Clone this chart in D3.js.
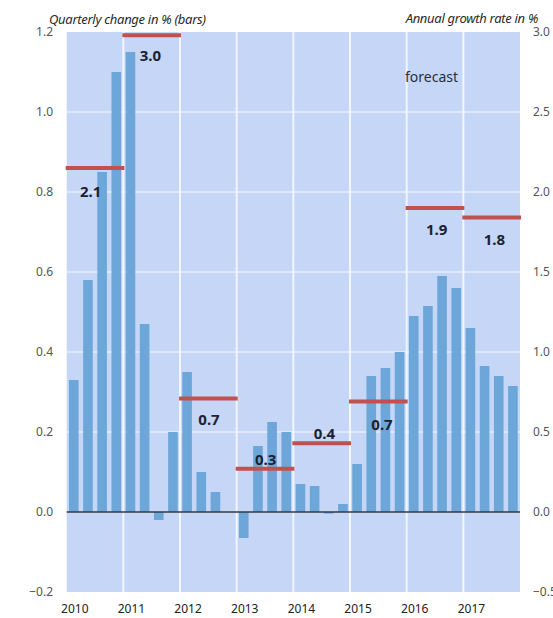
<!DOCTYPE html>
<html><head><meta charset="utf-8">
<script src="https://cdn.jsdelivr.net/npm/d3@7/dist/d3.min.js"></script>
<style>body{margin:0;background:#fff;}svg{display:block;font-family:"Noto Sans",sans-serif;}</style>
</head><body><svg id="c" width="553" height="618"></svg>
<script>
const years = ["2010","2011","2012","2013","2014","2015","2016","2017"];
const quarters = ["Q1","Q2","Q3","Q4"];
const quarterly = [
  0.33, 0.58, 0.85, 1.10,
  1.15, 0.47, -0.02, 0.20,
  0.35, 0.10, 0.05, 0.0,
  -0.065, 0.165, 0.225, 0.20,
  0.07, 0.065, -0.004, 0.02,
  0.12, 0.34, 0.36, 0.40,
  0.49, 0.515, 0.59, 0.56,
  0.46, 0.365, 0.34, 0.315
];
const annual = [2.15, 2.98, 0.71, 0.27, 0.43, 0.69, 1.90, 1.84];
const annualLabels = ["2.1","3.0","0.7","0.3","0.4","0.7","1.9","1.8"];
const leftTicks = [-0.2,0.0,0.2,0.4,0.6,0.8,1.0,1.2];
const rightTicks = [-0.5,0.0,0.5,1.0,1.5,2.0,2.5,3.0];

const svg = d3.select("#c");
const L = 66.7, R = 520, T = 32, B = 592;

const cats = [];
years.forEach(y => quarters.forEach(q => cats.push(y + q)));
const x = d3.scaleBand().domain(cats).range([L, R]).paddingInner(0.32).paddingOuter(0.16);
const xYear = d3.scaleBand().domain(years).range([L, R]);
const y = d3.scaleLinear().domain([-0.2, 1.2]).range([B, T]);
const y2 = d3.scaleLinear().domain([-0.5, 3.0]).range([B, T]);

svg.append("rect").attr("x", L).attr("y", T).attr("width", R - L).attr("height", B - T).attr("fill", "#c5d6f6");

// horizontal gridlines
svg.selectAll(".hg").data(leftTicks.filter(t => t !== 0 && t !== 1.2 && t !== -0.2)).join("line")
  .attr("x1", L).attr("x2", R).attr("y1", d => y(d)).attr("y2", d => y(d))
  .attr("stroke", "#e6eefc").attr("stroke-width", 1.5);
// vertical gridlines
svg.selectAll(".vg").data(years.slice(1)).join("line")
  .attr("x1", d => xYear(d)).attr("x2", d => xYear(d)).attr("y1", T).attr("y2", B)
  .attr("stroke", "#f2f6fe").attr("stroke-width", 2);

// bars
svg.selectAll(".bar").data(quarterly).join("rect")
  .attr("x", (d, i) => x(cats[i])).attr("width", x.bandwidth())
  .attr("y", d => y(Math.max(0, d))).attr("height", d => Math.abs(y(d) - y(0)))
  .attr("fill", "#6da7da");

// zero line
svg.append("line").attr("x1", L).attr("x2", R).attr("y1", y(0)).attr("y2", y(0))
  .attr("stroke", "#333a44").attr("stroke-width", 1.5);

// annual lines
svg.selectAll(".ann").data(annual).join("line")
  .attr("x1", (d, i) => xYear(years[i]) - 1).attr("x2", (d, i) => xYear(years[i]) + xYear.bandwidth() + 1)
  .attr("y1", d => y2(d)).attr("y2", d => y2(d))
  .attr("stroke", "#c2504e").attr("stroke-width", 4);

// annual labels: offsets (dx from year start, dy from line)
const labDx = [24, 27, 29, 29, 31, 32, 30, 31];
const labDy = [24, 21, 22, -9, -9, 23, 22, 22];
svg.selectAll(".al").data(annual).join("text")
  .attr("x", (d, i) => xYear(years[i]) + labDx[i])
  .attr("y", (d, i) => y2(d) + labDy[i] + 5)
  .attr("text-anchor", "middle").attr("font-size", 15).attr("font-weight", "bold")
  .attr("fill", "#1b2233").text((d, i) => annualLabels[i]);

svg.append("text").attr("x", 405).attr("y", 82).attr("font-size", 14).attr("fill", "#26303f").text("forecast");

// left axis labels
svg.selectAll(".lt").data(leftTicks).join("text")
  .attr("x", 53).attr("y", d => y(d) + 4).attr("text-anchor", "end")
  .attr("font-size", 12).attr("fill", "#555").text(d => d3.format(".1f")(d));
// right axis labels
svg.selectAll(".rt").data(rightTicks).join("text")
  .attr("x", 533).attr("y", d => y2(d) + 4).attr("text-anchor", "start")
  .attr("font-size", 12).attr("fill", "#555").text(d => d3.format(".1f")(d));
// x labels
svg.selectAll(".xl").data(years).join("text")
  .attr("x", d => x(d + "Q1") + x.bandwidth() / 2 + 1).attr("y", 613)
  .attr("text-anchor", "middle").attr("font-size", 12).attr("fill", "#222").text(d => d);

// axis titles
svg.append("text").attr("x", 49).attr("y", 24).attr("font-size", 13).attr("font-style", "italic")
  .attr("fill", "#2a2a2a").attr("letter-spacing", -0.3).text("Quarterly change in % (bars)");
svg.append("text").attr("x", 538).attr("y", 23).attr("text-anchor", "end").attr("font-size", 13).attr("font-style", "italic")
  .attr("fill", "#2a2a2a").attr("letter-spacing", -0.3).text("Annual growth rate in %");
</script></body></html>
